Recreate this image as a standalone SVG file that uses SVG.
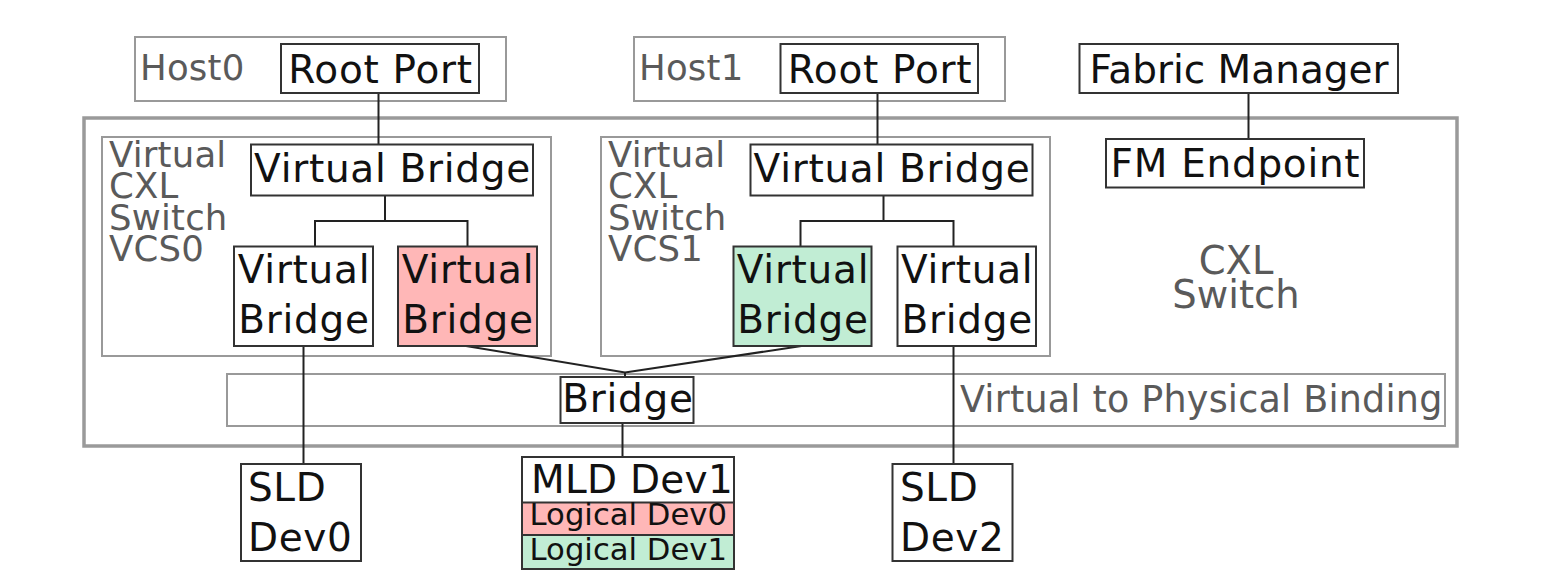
<svg xmlns="http://www.w3.org/2000/svg" width="1553" height="578" viewBox="0 0 1553 578">
<style>
text{font-family:"DejaVu Sans","Verdana","Liberation Sans",sans-serif}
.c{fill:#fff;stroke:#999;stroke-width:2}
.outer{fill:#fff;stroke:#9a9a9a;stroke-width:3.5}
.n{fill:#fff;stroke:#333;stroke-width:2}
.pink{fill:#ffb7b7;stroke:#333;stroke-width:2}
.green{fill:#c1edd4;stroke:#333;stroke-width:2}
.t{font-size:39px;fill:#111;letter-spacing:0.6px}
.tm{font-size:39px;fill:#111;text-anchor:middle;letter-spacing:0.7px}
.ts{font-size:30.7px;fill:#111;text-anchor:middle}
.g{font-size:35.5px;fill:#5a5a5a;letter-spacing:0.2px}
.gm{font-size:38.5px;fill:#5a5a5a;text-anchor:middle}
.l{stroke:#222;stroke-width:2;fill:none}
</style>
<rect width="1553" height="578" fill="#fff"/>

<g id="host0">
<rect class="c" x="135" y="37" width="371" height="64"/>
<text class="g" x="140" y="80">Host0</text>
</g>
<g id="host1">
<rect class="c" x="634" y="37" width="371" height="64"/>
<text class="g" x="639" y="80">Host1</text>
</g>
<g id="cxl-switch">
<rect class="outer" x="84" y="118" width="1373" height="328"/>
<text class="gm" x="1236" y="274.3">CXL</text>
<text class="gm" x="1236" y="308.3">Switch</text>
</g>
<g id="vcs0">
<rect class="c" x="102" y="137" width="449" height="219"/>
<text class="g" x="109" y="166.7">Virtual</text>
<text class="g" x="109" y="198.3">CXL</text>
<text class="g" x="109" y="230">Switch</text>
<text class="g" x="109" y="260.7">VCS0</text>
</g>
<g id="vcs1">
<rect class="c" x="601" y="137" width="449" height="219"/>
<text class="g" x="608" y="166.7">Virtual</text>
<text class="g" x="608" y="198.3">CXL</text>
<text class="g" x="608" y="230">Switch</text>
<text class="g" x="608" y="260.7">VCS1</text>
</g>
<g id="binding">
<rect class="c" x="227" y="374" width="1218" height="52"/>
<text class="g" x="960" y="412" style="font-size:36.5px;letter-spacing:0.2px">Virtual to Physical Binding</text>
</g>

<g id="connectors">
<line class="l" x1="378.5" y1="93" x2="378.5" y2="144"/>
<line class="l" x1="877.5" y1="93" x2="877.5" y2="144"/>
<line class="l" x1="1248.5" y1="93" x2="1248.5" y2="139"/>
<polyline class="l" points="315,246 315,221 467.5,221 467.5,246"/>
<line class="l" x1="385" y1="195" x2="385" y2="221"/>
<polyline class="l" points="800.5,246 800.5,221 953.5,221 953.5,246"/>
<line class="l" x1="883.5" y1="195" x2="883.5" y2="221"/>
<polyline class="l" points="466,346 625,372.5 801.5,346"/>
<line class="l" x1="625" y1="372.5" x2="625" y2="377"/>
<line class="l" x1="303.5" y1="346" x2="303.5" y2="464"/>
<line class="l" x1="953.5" y1="346" x2="953.5" y2="464"/>
<line class="l" x1="622.5" y1="423" x2="622.5" y2="457"/>
</g>

<g id="rootport0">
<rect class="n" x="281" y="44" width="198" height="49"/>
<text class="tm" x="380.5" y="82.7">Root Port</text>
</g>
<g id="rootport1">
<rect class="n" x="780.5" y="44" width="197.5" height="49"/>
<text class="tm" x="880" y="82.7">Root Port</text>
</g>
<g id="fabric-manager">
<rect class="n" x="1079.5" y="44" width="318.5" height="49"/>
<text class="tm" x="1239" y="82.7" style="letter-spacing:0px">Fabric Manager</text>
</g>
<g id="fm-endpoint">
<rect class="n" x="1106" y="139" width="258" height="48.5"/>
<text class="tm" x="1235.5" y="176.7">FM Endpoint</text>
</g>
<g id="vb0-up">
<rect class="n" x="251" y="144.5" width="282" height="51"/>
<text class="tm" x="392.5" y="181.7">Virtual Bridge</text>
</g>
<g id="vb0-a">
<rect class="n" x="234" y="246.5" width="139" height="99.5"/>
<text class="tm" x="304" y="283.3">Virtual</text>
<text class="tm" x="304" y="333.3">Bridge</text>
</g>
<g id="vb0-b">
<rect class="pink" x="398" y="246.5" width="139" height="99.5"/>
<text class="tm" x="468" y="283.3">Virtual</text>
<text class="tm" x="468" y="333.3">Bridge</text>
</g>
<g id="vb1-up">
<rect class="n" x="750.5" y="144.5" width="282" height="51"/>
<text class="tm" x="892" y="181.7">Virtual Bridge</text>
</g>
<g id="vb1-a">
<rect class="green" x="733.5" y="246.5" width="138" height="99.5"/>
<text class="tm" x="803" y="283.3">Virtual</text>
<text class="tm" x="803" y="333.3">Bridge</text>
</g>
<g id="vb1-b">
<rect class="n" x="897.5" y="246.5" width="138.5" height="99.5"/>
<text class="tm" x="967.2" y="283.3">Virtual</text>
<text class="tm" x="967.2" y="333.3">Bridge</text>
</g>
<g id="bridge">
<rect class="n" x="560.5" y="377" width="133" height="46"/>
<text class="tm" x="628" y="411.7">Bridge</text>
</g>
<g id="sld-dev0">
<rect class="n" x="241" y="464" width="120" height="97"/>
<text class="t" x="248" y="500.7">SLD</text>
<text class="t" x="248" y="550.7">Dev0</text>
</g>
<g id="mld-dev1">
<rect class="n" x="522" y="457" width="212" height="112"/>
<rect class="pink" x="522" y="502.5" width="212" height="32.5"/>
<rect class="green" x="522" y="535" width="212" height="34"/>
<text class="tm" x="632" y="493.3" style="letter-spacing:0.3px">MLD Dev1</text>
<text class="ts" x="628.3" y="525">Logical Dev0</text>
<text class="ts" x="628.3" y="560">Logical Dev1</text>
</g>
<g id="sld-dev2">
<rect class="n" x="892.5" y="464" width="120" height="97"/>
<text class="t" x="900" y="500.7">SLD</text>
<text class="t" x="900" y="550.7">Dev2</text>
</g>
</svg>
